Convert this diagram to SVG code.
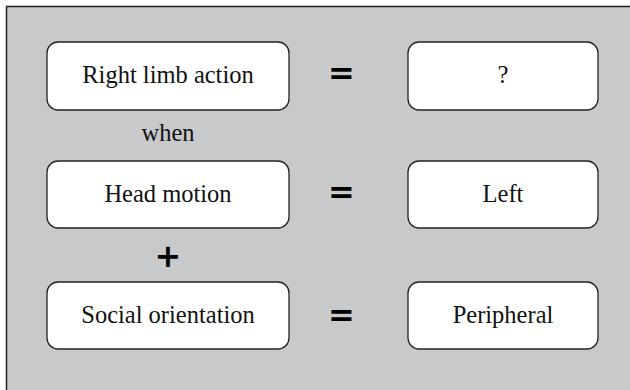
<svg xmlns="http://www.w3.org/2000/svg" width="630" height="390" viewBox="0 0 630 390">
<style>
.frame{fill:#c8c9cb;stroke:#222;stroke-width:1.5}
.box{fill:#fff;stroke:#222;stroke-width:1.3}
.lbl{font-family:"Liberation Serif","Times New Roman",serif;font-size:24.5px;fill:#111;text-anchor:middle}
.op{font-family:"DejaVu Sans",sans-serif;font-weight:bold;font-size:32px;fill:#000;text-anchor:middle}
</style>
<rect class="frame" x="6.5" y="6.5" width="640" height="400"/>
<g id="n1"><rect class="box" x="47" y="42" width="242" height="68" rx="11"/><text class="lbl" x="168" y="83">Right limb action</text></g>
<g id="n2"><rect class="box" x="47" y="161" width="242" height="67" rx="11"/><text class="lbl" x="168" y="202">Head motion</text></g>
<g id="n3"><rect class="box" x="47" y="282" width="242" height="67" rx="11"/><text class="lbl" x="168" y="323">Social orientation</text></g>
<g id="n4"><rect class="box" x="408" y="42" width="190" height="68" rx="11"/><text class="lbl" x="503" y="83">?</text></g>
<g id="n5"><rect class="box" x="408" y="161" width="190" height="67" rx="11"/><text class="lbl" x="503" y="202">Left</text></g>
<g id="n6"><rect class="box" x="408" y="282" width="190" height="67" rx="11"/><text class="lbl" x="503" y="323">Peripheral</text></g>
<g id="connectors">
<text class="lbl" x="168" y="141">when</text>
<text class="op" x="168" y="267">+</text>
<text class="op" x="341.5" y="84">=</text>
<text class="op" x="341.5" y="203">=</text>
<text class="op" x="341.5" y="326">=</text>
</g>
</svg>
